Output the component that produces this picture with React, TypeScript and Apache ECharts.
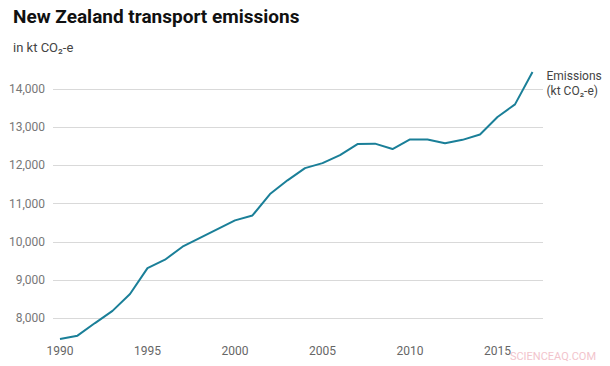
import React, { useEffect, useRef } from "react";
import * as echarts from "echarts";

const years = [1990,1991,1992,1993,1994,1995,1996,1997,1998,1999,2000,2001,2002,2003,2004,2005,2006,2007,2008,2009,2010,2011,2012,2013,2014,2015,2016,2017];
const emissions = [7450,7540,7870,8190,8630,9310,9530,9870,10100,10330,10560,10690,11250,11610,11930,12060,12270,12560,12570,12430,12680,12680,12580,12670,12810,13270,13600,14450];

const titleText = "New Zealand transport emissions";
const subtitleText = "in kt CO₂-e";
const seriesLabel = ["Emissions", "(kt CO₂-e)"];

export default function App() {
  const ref = useRef<HTMLDivElement>(null);
  useEffect(() => {
    const chart = echarts.init(ref.current!, null, { renderer: "svg" });
    const data = years.map((y, i) => [y, emissions[i]]);
    chart.setOption({
      animation: false,
      textStyle: { fontFamily: "Roboto" },
      grid: { left: 53, right: 67, top: 70, bottom: 25, containLabel: false },
      title: [
        { text: titleText, left: 8, top: 2, textStyle: { fontFamily: "Roboto", fontSize: 19, fontWeight: "bold", color: "#111" } },
        { text: subtitleText, left: 8, top: 36, textStyle: { fontFamily: "Roboto", fontSize: 13, fontWeight: "normal", color: "#444" } },
      ],
      xAxis: {
        type: "value",
        min: 1989.6,
        max: 2017.6,
        minInterval: 5,
        maxInterval: 5,
        splitNumber: 6,
        axisLine: { show: false },
        axisTick: { show: false },
        splitLine: { show: false },
        axisLabel: { showMinLabel: false, showMaxLabel: false, color: "#666", fontSize: 12, margin: 4, formatter: (v: number) => String(v) },
      },
      yAxis: {
        type: "value",
        min: 7400,
        max: 14500,
        minInterval: 1000,
        maxInterval: 1000,
        splitNumber: 7,
        axisLine: { show: false },
        axisTick: { show: false },
        splitLine: { show: true, showMinLine: false, showMaxLine: false, lineStyle: { color: "#d9d9d9", width: 1 } },
        axisLabel: {
          showMinLabel: false,
          showMaxLabel: false,
          color: "#777",
          fontSize: 12,
          margin: 8,
          formatter: (v: number) => v.toLocaleString("en-US"),
        },
      },
      series: [
        {
          type: "line",
          data,
          symbol: "none",
          lineStyle: { color: "#1a7f98", width: 2 },
          endLabel: {
            show: true,
            formatter: seriesLabel.join("\n"),
            color: "#444",
            fontSize: 12,
            lineHeight: 15,
            align: "left",
            verticalAlign: "top",
            offset: [6, -3],
          },
        },
      ],
      graphic: [
        { type: "text", right: 14, bottom: 4, style: { text: "SCIENCEAQ.COM", fill: "#f2c4cc", fontSize: 11, fontFamily: "Roboto" } },
      ],
    });
    return () => chart.dispose();
  }, []);
  return <div ref={ref} style={{ width: 610, height: 366, position: "absolute", left: 0, top: 0 }} />;
}
